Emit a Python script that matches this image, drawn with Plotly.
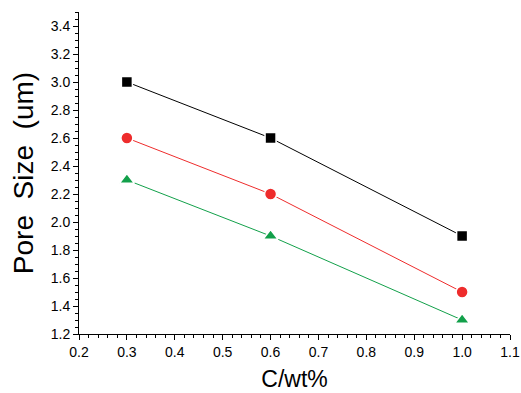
import plotly.graph_objects as go

x = [0.3, 0.6, 1.0]
s1 = [3.0, 2.6, 1.9]
s2 = [2.6, 2.2, 1.5]
s3 = [2.3, 1.9, 1.3]

fig = go.Figure()
for y, col, sym, sz in [(s1, "#000000", "square", 11), (s2, "#ee2c2c", "circle", 12), (s3, "#12a04a", "triangle-up", 13)]:
    fig.add_trace(go.Scatter(x=x, y=y, mode="lines+markers",
                             line=dict(color=col, width=1),
                             marker=dict(symbol=sym, size=sz, color=col,
                                         line=dict(color="white", width=1.5)),
                             showlegend=False))

font = "Liberation Sans, Arial"
axis_common = dict(showline=True, linecolor="black", linewidth=1, ticks="outside",
                   ticklen=5, tickcolor="black", showgrid=False, zeroline=False,
                   automargin=False,
                   tickfont=dict(family=font, size=14, color="black"),
                   minor=dict(ticks="outside", ticklen=3, tickcolor="black"))
fig.update_xaxes(range=[0.2, 1.1], dtick=0.1, tick0=0.2, tickformat=".1f",
                 title=dict(text="C/wt%", font=dict(family=font, size=23, color="black"), standoff=12),
                 **axis_common)
fig.update_yaxes(range=[1.2, 3.5], dtick=0.2, tick0=1.2, tickformat=".1f",
                 title=dict(text="Pore  Size  (um)", font=dict(family=font, size=28, color="black"), standoff=8),
                 **axis_common)
fig.update_layout(width=521, height=393, margin=dict(l=79, r=11, t=12, b=59),
                  plot_bgcolor="white", paper_bgcolor="white")
fig.write_html("out.html", config={"displayModeBar": False},
               post_script="document.body.style.margin='0';document.body.style.overflow='hidden';")
